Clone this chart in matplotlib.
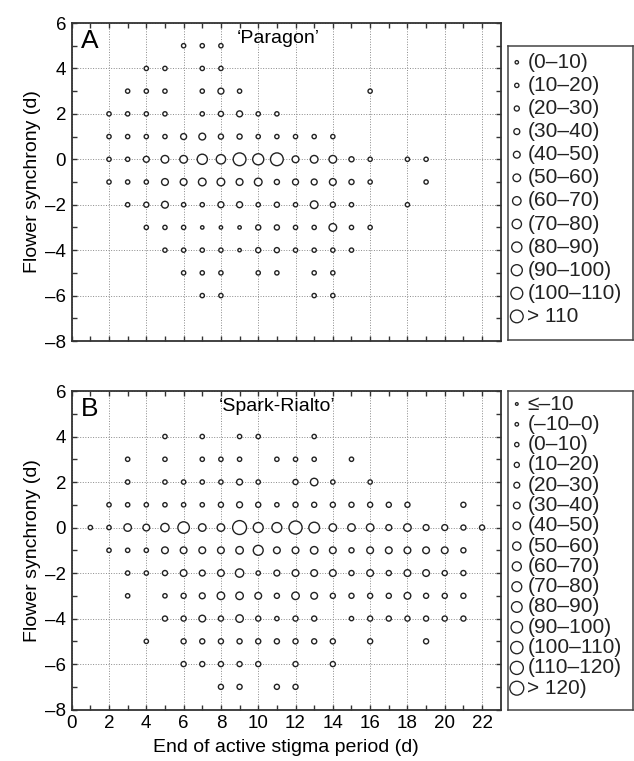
import numpy as np
import matplotlib
matplotlib.use("Agg")
import matplotlib.pyplot as plt

plt.rcParams['font.family'] = ['Liberation Sans', 'DejaVu Sans']

# ---- panel A, 'Paragon' (x = end of active stigma period, y = flower synchrony)
a_x = [6, 7, 8,
       4, 5, 7, 8,
       3, 4, 5, 7, 8, 9, 16,
       2, 3, 4, 5, 7, 8, 9, 10, 11,
       2, 3, 4, 5, 6, 7, 8, 9, 10, 11, 12, 13, 14,
       2, 3, 4, 5, 6, 7, 8, 9, 10, 11, 12, 13, 14, 15, 16, 18, 19,
       2, 3, 4, 5, 6, 7, 8, 9, 10, 11, 12, 13, 14, 15, 16, 19,
       3, 4, 5, 6, 7, 8, 9, 10, 11, 12, 13, 14, 15, 18,
       4, 5, 6, 7, 8, 9, 10, 11, 12, 13, 14, 15, 16,
       5, 6, 7, 8, 9, 10, 11, 12, 13, 14, 15,
       6, 7, 8, 10, 11, 13, 14,
       7, 8, 13, 14]
a_y = ([5] * 3 + [4] * 4 + [3] * 7 + [2] * 9 + [1] * 13 + [0] * 17 +
       [-1] * 16 + [-2] * 14 + [-3] * 13 + [-4] * 11 + [-5] * 7 + [-6] * 4)
a_v = [15, 15, 15,
       15, 15, 15, 15,
       15, 15, 15, 15, 35, 15, 15,
       15, 15, 15, 15, 15, 25, 35, 15, 15,
       15, 15, 15, 15, 35, 45, 25, 25, 15, 15, 15, 15, 15,
       15, 15, 35, 55, 55, 85, 75, 115, 95, 115, 45, 55, 55, 25, 15, 15, 15,
       15, 15, 15, 45, 45, 55, 55, 45, 55, 25, 35, 35, 45, 25, 15, 15,
       15, 25, 45, 15, 15, 35, 35, 15, 25, 15, 55, 25, 15, 15,
       15, 15, 15, 5, 5, 5, 25, 25, 15, 15, 55, 15, 15,
       15, 15, 15, 15, 5, 25, 25, 15, 15, 15, 15,
       15, 15, 15, 15, 15, 15, 15,
       15, 15, 15, 15]

# ---- panel B, 'Spark-Rialto'
b_x = [5, 7, 9, 10, 13,
       3, 5, 7, 8, 9, 11, 12, 13, 15,
       3, 5, 6, 7, 8, 9, 10, 12, 13, 14, 16,
       2, 3, 4, 5, 6, 7, 8, 9, 10, 11, 12, 13, 14, 15, 16, 17, 18, 21,
       1, 2, 3, 4, 5, 6, 7, 8, 9, 10, 11, 12, 13, 14, 15, 16, 17, 18, 19, 20, 21, 22,
       2, 3, 4, 5, 6, 7, 8, 9, 10, 11, 12, 13, 14, 15, 16, 17, 18, 19, 20, 21,
       3, 4, 5, 6, 7, 8, 9, 10, 11, 12, 13, 14, 15, 16, 17, 18, 19, 20, 21,
       3, 5, 6, 7, 8, 9, 10, 11, 12, 13, 14, 15, 16, 17, 18, 19, 20, 21,
       5, 6, 7, 8, 9, 10, 11, 12, 13, 15, 16, 17, 18, 19, 20, 21,
       4, 6, 7, 8, 9, 10, 11, 12, 13, 14, 16, 19,
       6, 7, 8, 9, 10, 12, 14,
       8, 9, 11, 12]
b_y = ([4] * 5 + [3] * 9 + [2] * 11 + [1] * 18 + [0] * 22 + [-1] * 20 +
       [-2] * 19 + [-3] * 18 + [-4] * 16 + [-5] * 12 + [-6] * 7 + [-7] * 4)
b_v = [5, 5, 5, 5, 5,
       5, 5, 5, 5, 5, 5, 5, 5, 5,
       5, 5, 5, 5, 5, 25, 5, 15, 45, 5, 5,
       5, 5, 5, 5, 5, 5, 15, 25, 15, 5, 15, 15, 15, 15, 15, 15, 15, 15,
       5, 5, 45, 35, 55, 95, 45, 45, 125, 75, 75, 115, 85, 45, 45, 45, 25, 45, 25, 25, 15, 15,
       5, 5, 5, 35, 35, 35, 35, 45, 75, 35, 35, 45, 35, 15, 35, 35, 35, 35, 35, 15,
       5, 5, 15, 35, 25, 35, 55, 5, 25, 35, 35, 35, 15, 35, 15, 35, 35, 15, 15,
       5, 5, 15, 25, 45, 45, 35, 15, 45, 35, 15, 15, 15, 15, 35, 15, 15, 15,
       15, 15, 35, 15, 45, 15, 5, 15, 15, 5, 15, 15, 15, 15, 15, 15,
       5, 15, 15, 15, 15, 15, 15, 15, 15, 15, 15, 15,
       15, 15, 15, 15, 15, 15, 15,
       15, 15, 15, 15]

a_labels = ['(0–10)', '(10–20)', '(20–30)', '(30–40)', '(40–50)', '(50–60)',
            '(60–70)', '(70–80)', '(80–90)', '(90–100)', '(100–110)', '> 110']
b_labels = ['≤–10', '(–10–0)', '(0–10)', '(10–20)', '(20–30)', '(30–40)',
            '(40–50)', '(50–60)', '(60–70)', '(70–80)', '(80–90)', '(90–100)',
            '(100–110)', '(110–120)', '> 120)']

W, H = 634, 761
fig = plt.figure(figsize=(W / 100, H / 100), dpi=100)


def frac(left, top, right, bottom):
    return [left / W, 1 - bottom / H, (right - left) / W, (bottom - top) / H]


def size_pt(d_px):
    return (np.asarray(d_px) * 0.72) ** 2


def a_index(v):
    return np.clip(np.asarray(v) // 10, 0, 11).astype(int)


def b_index(v):
    return np.clip(np.asarray(v) // 10 + 2, 0, 14).astype(int)


def a_diam(i):
    return 3.4 + 0.85 * np.asarray(i)


def b_diam(i):
    return 2.7 + 0.8 * np.asarray(i)


def style_axes(ax, show_x):
    ax.set_xlim(0, 23)
    ax.set_ylim(-8, 6)
    ax.set_xticks(np.arange(0, 23, 2))
    ax.set_xticks(np.arange(1, 23, 2), minor=True)
    ax.set_yticks(np.arange(-8, 7, 2))
    ax.set_yticks(np.arange(-7, 6, 2), minor=True)
    ax.grid(True, which='major', linestyle=':', linewidth=0.7, color='#8a8a8a')
    ax.set_axisbelow(True)
    ax.tick_params(which='both', direction='in', top=True, right=True,
                   length=3.5, width=1.0, color='#333333', labelsize=13.5, pad=4)
    for s in ax.spines.values():
        s.set_linewidth(1.3)
        s.set_color('#333333')
    ax.set_yticklabels([f'{t:d}'.replace('-', '–') for t in range(-8, 7, 2)])
    if show_x:
        ax.set_xticklabels([str(t) for t in range(0, 23, 2)])
        ax.set_xlabel('End of active stigma period (d)', fontsize=14, labelpad=5)
    else:
        ax.set_xticklabels([])
    ax.set_ylabel('Flower synchrony (d)', fontsize=14, labelpad=3)


def legend_box(rect, labels, diam, top_off, spacing):
    lax = fig.add_axes(rect)
    h_px = rect[3] * H
    w_px = rect[2] * W
    lax.set_xlim(0, w_px)
    lax.set_ylim(h_px, 0)
    lax.set_xticks([])
    lax.set_yticks([])
    for s in lax.spines.values():
        s.set_linewidth(1.1)
        s.set_color('#444444')
    idx = np.arange(len(labels))
    ys = top_off + spacing * idx
    lax.scatter(np.full(len(labels), 8.5), ys, s=size_pt(diam(idx)),
                facecolors='none', edgecolors='#222222', linewidths=0.95)
    for y, lab in zip(ys, labels):
        lax.text(19.0, y, lab, fontsize=15, va='center', ha='left', color='#222222')


# panel A
axA = fig.add_axes(frac(71.7, 23, 500.7, 341))
axA.scatter(a_x, a_y, s=size_pt(a_diam(a_index(a_v))), facecolors='white',
            edgecolors='#222222', linewidths=1.0, zorder=3)
style_axes(axA, show_x=False)
axA.text(0.5, 5.2, 'A', fontsize=19, va='center', ha='left')
axA.text(11.1, 5.3, '‘Paragon’', fontsize=14, va='center', ha='center')
legend_box(frac(508.3, 46, 633, 340), a_labels, a_diam, 16.3, 23.1)

# panel B
axB = fig.add_axes(frac(71.7, 391, 500.7, 709.6))
axB.scatter(b_x, b_y, s=size_pt(b_diam(b_index(b_v))), facecolors='white',
            edgecolors='#222222', linewidths=1.0, zorder=3)
style_axes(axB, show_x=True)
axB.text(0.5, 5.2, 'B', fontsize=19, va='center', ha='left')
axB.text(11.0, 5.3, '‘Spark-Rialto’', fontsize=14, va='center', ha='center')
legend_box(frac(508.3, 391, 633, 709.6), b_labels, b_diam, 13, 20.3)

fig.savefig('out.png', dpi=100)
